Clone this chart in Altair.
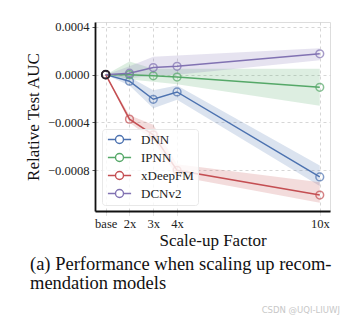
import altair as alt
import pandas as pd

categories = ["base", "2x", "3x", "4x", "10x"]
factors = [1, 2, 3, 4, 10]
models = ["DNN", "IPNN", "xDeepFM", "DCNv2"]
colors = ["#4C72B0", "#55A868", "#C44E52", "#8172B2"]

dnn = [0.0, -0.000055, -0.000206, -0.000145, -0.000855]
dnn_lo = [0.0, -0.00009, -0.00028, -0.00021, -0.00093]
dnn_hi = [0.0, -0.00002, -0.00013, -0.00009, -0.00076]

ipnn = [0.0, 0.0, -0.00001, -0.00002, -0.000106]
ipnn_lo = [0.0, -0.00004, -0.00006, -0.00008, -0.00026]
ipnn_hi = [0.0, 0.00011, 0.00005, 0.00005, 0.00005]

xdeepfm = [0.0, -0.000372, -0.000503, -0.0008, -0.001007]
xdeepfm_lo = [0.0, -0.00040, -0.00055, -0.00085, -0.00107]
xdeepfm_hi = [0.0, -0.00034, -0.00042, -0.00075, -0.00090]

dcnv2 = [0.0, 0.000012, 0.000059, 0.00007, 0.000174]
dcnv2_lo = [0.0, -0.00003, -0.00001, 0.0, 0.00012]
dcnv2_hi = [0.0, 0.00007, 0.00015, 0.00016, 0.00022]

series = {"DNN": (dnn, dnn_lo, dnn_hi), "IPNN": (ipnn, ipnn_lo, ipnn_hi),
          "xDeepFM": (xdeepfm, xdeepfm_lo, xdeepfm_hi), "DCNv2": (dcnv2, dcnv2_lo, dcnv2_hi)}

rows = []
for m, (v, lo, hi) in series.items():
    for f, c, a, b, d in zip(factors, categories, v, lo, hi):
        rows.append({"model": m, "factor": f, "label": c, "auc": a, "lo": b, "hi": d})
df = pd.DataFrame(rows)

serif = "Liberation Serif, Times New Roman, serif"
label_map = "{" + ",".join(f"'{f}':'{c}'" for f, c in zip(factors, categories)) + "}"

xscale = alt.Scale(domain=[0.55, 10.43], nice=False, zero=False)
yscale = alt.Scale(domain=[-0.00114, 0.00044], nice=False, zero=False)
color = alt.Color("model:N", scale=alt.Scale(domain=models, range=colors),
                  sort=models,
                  legend=alt.Legend(title=None, orient="none", legendX=7, legendY=107,
                                    symbolType="M-2.9,0L-1,0M1,0L2.9,0M1,0A1,1 0 1,0 -1,0A1,1 0 1,0 1,0",
                                    symbolSize=64, symbolStrokeWidth=1.4, symbolFillColor="transparent",
                                    labelFont=serif, labelFontSize=13, labelFontWeight="normal",
                                    labelColor="#222", labelLimit=200,
                                    fillColor="rgba(255,255,255,0.8)", strokeColor="#e8e8e8", cornerRadius=3,
                                    padding=4, rowPadding=3, symbolOffset=7, labelOffset=15))

xaxis = alt.Axis(title="Scale-up Factor", values=factors, labelExpr=f"{label_map}[datum.value]",
                 grid=True, gridDash=[3, 3], gridColor="#cccccc", gridWidth=0.8,
                 domainColor="#111", domainWidth=1.8, tickColor="#bbbbbb", tickSize=4,
                 tickDash=[2, 1], tickWidth=0.8,
                 labelFont=serif, labelFontSize=12.5, labelColor="#222", labelPadding=2,
                 titleFont=serif, titleFontSize=17, titleFontWeight="normal", titleColor="#111",
                 titlePadding=3)
yaxis = alt.Axis(title="Relative Test AUC", values=[-0.0008, -0.0004, 0.0, 0.0004], format=".4f",
                 grid=True, gridDash=[3, 3], gridColor="#cccccc", gridWidth=0.8,
                 domainColor="#111", domainWidth=1.8, tickColor="#555", tickSize=3,
                 labelFont=serif, labelFontSize=12.5, labelColor="#222", labelPadding=3,
                 titleFont=serif, titleFontSize=17, titleFontWeight="normal", titleColor="#111",
                 titlePadding=5)

base = alt.Chart(df)
band = base.mark_area(opacity=0.2).encode(
    x=alt.X("factor:Q", scale=xscale, axis=xaxis),
    y=alt.Y("lo:Q", scale=yscale, axis=yaxis),
    y2="hi:Q",
    color=alt.Color("model:N", scale=alt.Scale(domain=models, range=colors), legend=None),
)
line = base.mark_line(strokeWidth=1.5).encode(
    x="factor:Q", y="auc:Q", color=color, order="factor:Q")
pts = base.mark_point(filled=False, size=60, strokeWidth=1.5, shape="circle").encode(
    x="factor:Q", y="auc:Q",
    color=alt.Color("model:N", scale=alt.Scale(domain=models, range=colors), legend=None))
base_pt = alt.Chart(pd.DataFrame({"factor": [factors[0]], "auc": [0.0]})).mark_point(
    filled=False, size=60, strokeWidth=2, color="black", shape="circle").encode(x="factor:Q", y="auc:Q")

cap1 = alt.Chart(pd.DataFrame({"t": ["(a) Performance when scaling up recom-"]})).mark_text(
    align="left", baseline="alphabetic", font=serif, fontSize=18.5, color="#111").encode(
    text="t:N", x=alt.value(-65), y=alt.value(248))
cap2 = alt.Chart(pd.DataFrame({"t": ["mendation models"]})).mark_text(
    align="left", baseline="alphabetic", font=serif, fontSize=18.5, color="#111").encode(
    text="t:N", x=alt.value(-65), y=alt.value(266.5))
wm = alt.Chart(pd.DataFrame({"t": ["CSDN @UQI-LIUWJ"]})).mark_text(
    align="right", baseline="middle", font="DejaVu Sans", fontSize=8.5, color="#c8c8c8").encode(
    text="t:N", x=alt.value(245), y=alt.value(288))

chart = alt.layer(band, line, pts, base_pt, cap1, cap2, wm).resolve_scale(color="independent").properties(
    width=235, height=189,
    autosize=alt.AutoSizeParams(type="none"),
    padding={"left": 95, "top": 22, "right": 15, "bottom": 110},
).configure_view(stroke=None).configure(background="white")

chart.save("out.html", embed_options={"renderer": "svg", "actions": False})
